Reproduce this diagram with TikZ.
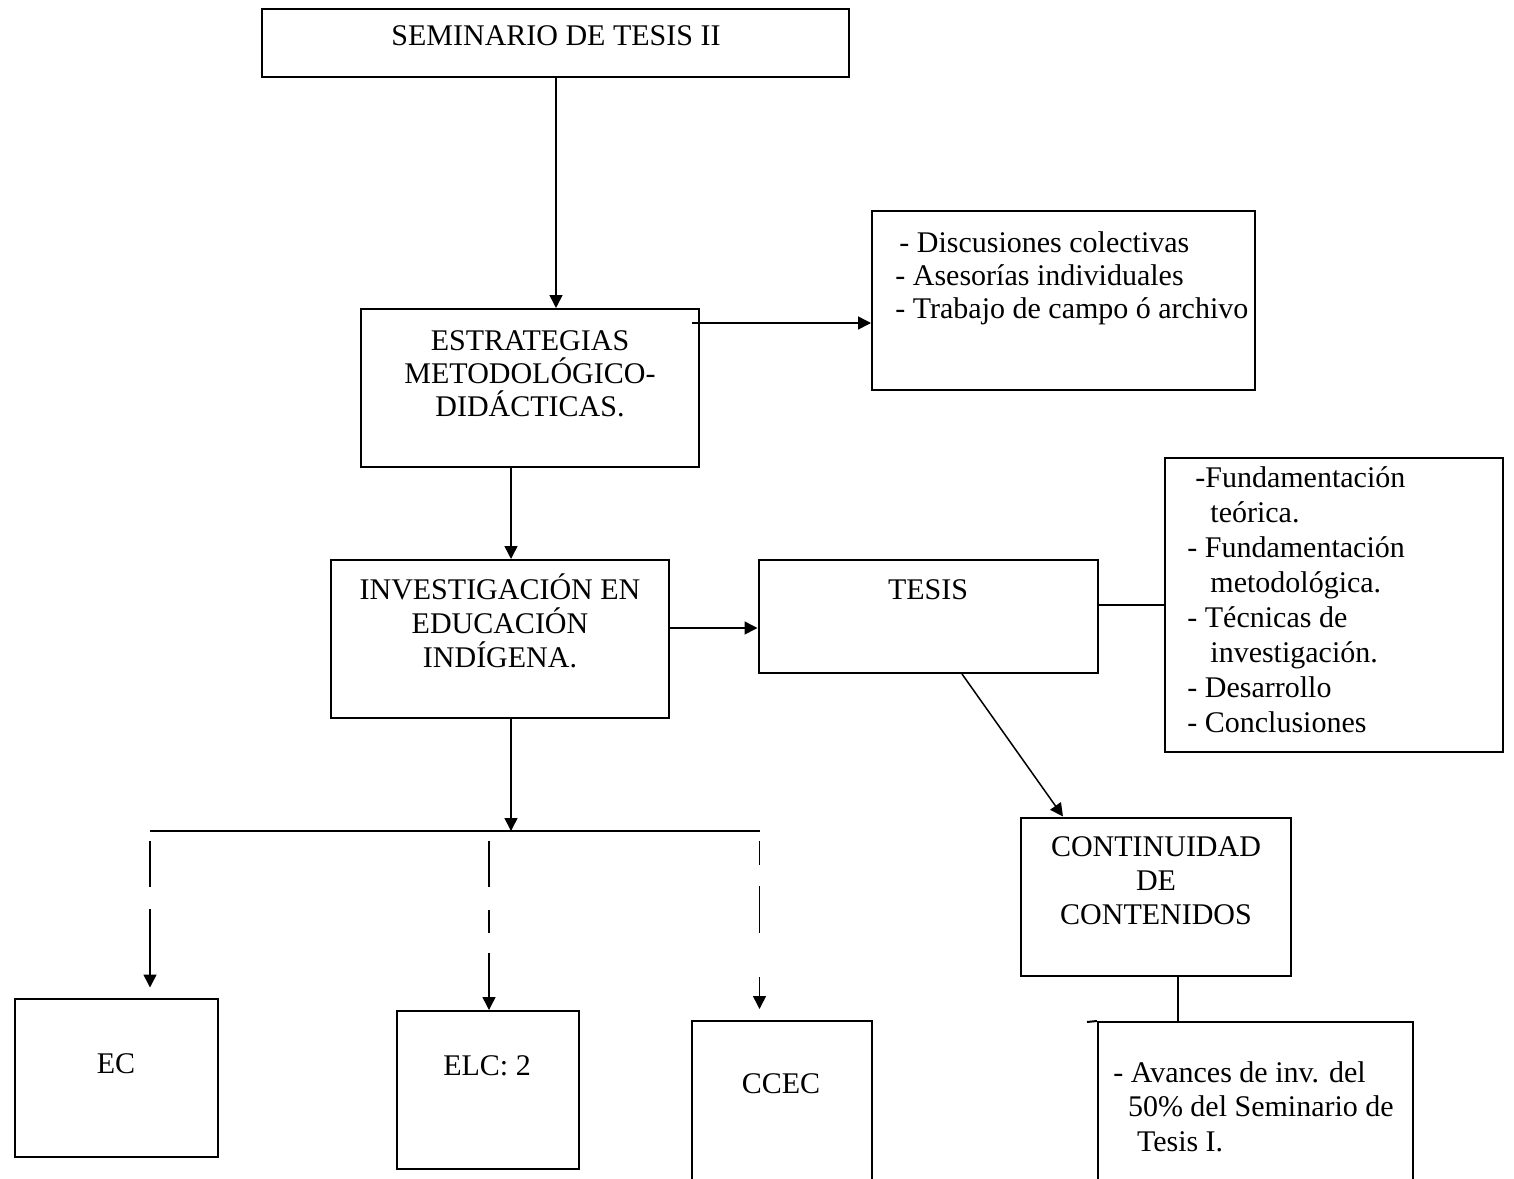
\documentclass[tikz,border=0pt]{standalone}
\usepackage{fontspec}
\setmainfont{Liberation Serif}
\usetikzlibrary{arrows.meta}
\begin{document}
\begin{tikzpicture}[x=0.5pt,y=-0.5pt,
  box/.style={draw, line width=1pt, inner sep=0pt, rectangle},
  lbl/.style={inner sep=0pt, font=\fontsize{15pt}{17pt}\selectfont},
  arr/.style={line width=0.75pt, -{Triangle[length=6.5pt,width=6.5pt]}},
  ln/.style={line width=0.75pt}]
\clip (0,0) rectangle (1514,1178);
\fill[white] (0,0) rectangle (1514,1178);

% boxes
\node[box, minimum width=293.5pt, minimum height=34pt] (sem) at (555.5,43) {};
\node[box, minimum width=169.25pt, minimum height=79pt] (est) at (529.75,388) {};
\node[box, minimum width=191.5pt, minimum height=89.5pt] (r1) at (1063.5,300.5) {};
\node[box, minimum width=169.25pt, minimum height=79pt] (inv) at (499.75,639) {};
\node[box, minimum width=169.75pt, minimum height=56.5pt] (tesis) at (928.25,616.5) {};
\node[box, minimum width=169pt, minimum height=146.75pt] (r2) at (1334,604.75) {};
\node[box, minimum width=135.25pt, minimum height=79.25pt] (cont) at (1155.75,896.75) {};
\node[box, minimum width=101.75pt, minimum height=79.25pt] (ec) at (116.25,1077.75) {};
\node[box, minimum width=91pt, minimum height=79pt] (elc) at (488,1090) {};
\node[box, minimum width=90.25pt, minimum height=89.5pt] (ccec) at (781.75,1110.5) {};
\node[box, minimum width=157.5pt, minimum height=89pt] (av) at (1255.5,1111) {};
\draw[line width=1pt] (1087,1022) -- (av.north west);

% texts (multi-line nodes: base = baseline of last line)
\node[lbl, anchor=base] (semt) at (556,45) {SEMINARIO DE TESIS II};
\node[lbl, anchor=base, align=center, font=\fontsize{15pt}{16.5pt}\selectfont] (estt) at (530,416)
  {ESTRATEGIAS\\METODOLÓGICO-\\DIDÁCTICAS.};
\node[lbl, anchor=base west, align=left, font=\fontsize{15pt}{16.5pt}\selectfont] (r1t) at (895,318)
  {\hspace*{2pt}- Discusiones colectivas\\- Asesorías individuales\\- Trabajo de campo ó archivo};
\node[lbl, anchor=base, align=center] (invt) at (500,667)
  {INVESTIGACIÓN EN\\EDUCACIÓN\\INDÍGENA.};
\node[lbl, anchor=base] (tesist) at (928,599) {TESIS};
\node[lbl, anchor=base west, align=left, font=\fontsize{15pt}{17.5pt}\selectfont] (r2t) at (1187,732)
  {\hspace*{4pt}-Fundamentación\\\hspace*{11.5pt}teórica.\\- Fundamentación\\\hspace*{11.5pt}metodológica.\\- Técnicas de\\\hspace*{11.5pt}investigación.\\- Desarrollo\\- Conclusiones};
\node[lbl, anchor=base, align=center] (contt) at (1156,924)
  {CONTINUIDAD\\DE\\CONTENIDOS};
\node[lbl, anchor=base west, align=left, font=\fontsize{15pt}{17.25pt}\selectfont] (avt) at (1113,1151)
  {- Avances de inv. del\\\hspace*{7.3pt}50\% del Seminario de\\\hspace*{11.8pt}Tesis I.};
\node[lbl, anchor=base] (ect) at (116,1073) {EC};
\node[lbl, anchor=base] (elct) at (487,1075) {ELC: 2};
\node[lbl, anchor=base] (ccect) at (781,1093) {CCEC};

% helper coordinates
\coordinate (xa) at (556,0);
\coordinate (ea) at (692,323);
\coordinate (xb) at (511,0);
\coordinate (yc) at (0,628);
\coordinate (yd) at (0,605);
\coordinate (te) at (962,0);
\coordinate (ce) at (1063,0);
\coordinate (xf) at (1178,0);
\coordinate (bm) at (511,831);
\coordinate (bl) at (150,831);
\coordinate (br) at (760,831);
\coordinate (d1) at (150,841);
\coordinate (d2) at (489,841);
\coordinate (d3) at (759.5,841);

% connectors
\draw[arr] (sem.south -| xa) -- (est.north -| xa);
\draw[arr] (ea) -- (ea -| r1.west);
\draw[arr] (est.south -| xb) -- (inv.north -| xb);
\draw[arr] (inv.east |- yc) -- (tesis.west |- yc);
\draw[ln] (tesis.east |- yd) -- (r2.west |- yd);
\draw[arr] (tesis.south -| te) -- (cont.north -| ce);
\draw[ln] (cont.south -| xf) -- (av.north -| xf);
\draw[arr] (inv.south -| xb) -- (bm);
\draw[line width=1.2pt] (bl) -- (br);
\draw[arr, dash pattern=on 23pt off 11pt on 200pt off 1pt] (d1) -- ([yshift=5pt]ec.north -| d1);
\draw[arr, dash pattern=on 23pt off 11.5pt on 11.5pt off 10pt on 200pt off 1pt] (d2) -- (elc.north -| d2);
\draw[arr, dash pattern=on 12pt off 10.5pt on 23.5pt off 22pt on 200pt off 1pt] (d3) -- ([yshift=5.5pt]ccec.north -| d3);
\end{tikzpicture}
\end{document}
